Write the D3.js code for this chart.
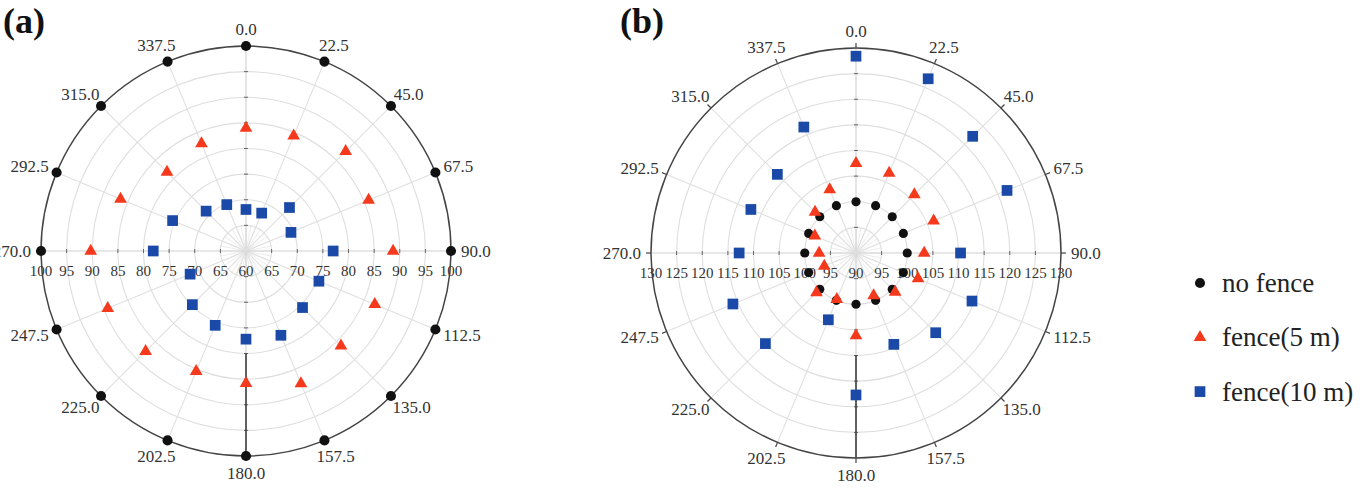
<!DOCTYPE html>
<html>
<head>
<meta charset="utf-8">
<script src="https://cdn.jsdelivr.net/npm/d3@7"></script>
<style>
    body { margin: 0; background: #fff; }
    svg { display: block; font-family: "Liberation Serif", "Times New Roman", serif; }
</style>
</head>
<body>
<svg id="chart" width="1366" height="491"></svg>
<script>
// 方位 (deg, 0 = top, clockwise)
const angles = [0, 22.5, 45, 67.5, 90, 112.5, 135, 157.5, 180, 202.5, 225, 247.5, 270, 292.5, 315, 337.5];
const angleLabels = ["0.0", "22.5", "45.0", "67.5", "90.0", "112.5", "135.0", "157.5",
    "180.0", "202.5", "225.0", "247.5", "270.0", "292.5", "315.0", "337.5"];

const seriesNames = ["no fence", "fence(5 m)", "fence(10 m)"];

// panel (a)
const aTicks = [60, 65, 70, 75, 80, 85, 90, 95, 100];
const aNoFence = [100, 100, 100, 100, 100, 100, 100, 100, 100, 100, 100, 100, 100, 100, 100, 100];
const aFence5 = [84.0, 84.3, 87.5, 85.9, 88.7, 87.2, 86.2, 88.0, 85.8, 85.4, 87.7, 89.2, 90.3, 86.5, 81.8, 82.7];
const aFence10 = [68.1, 68.0, 72.0, 69.5, 77.0, 75.4, 75.6, 77.8, 77.2, 75.7, 74.8, 71.8, 78.1, 75.5, 71.0, 69.8];

// panel (b)
const bTicks = [90, 95, 100, 105, 110, 115, 120, 125, 130];
const bNoFence = [100, 100, 100, 100, 100, 100, 100, 100, 100, 100, 100, 100, 100, 100, 100, 100];
const bFence5 = [107.5, 106.9, 106.1, 106.4, 103.3, 103.1, 100.8, 99.0, 106.1, 99.8, 100.9, 96.7, 97.2, 98.7, 101.3, 103.4];
const bFence10 = [128.4, 126.8, 122.2, 121.9, 110.4, 114.5, 112.0, 109.3, 117.7, 104.1, 115.0, 116.0, 112.8, 112.2, 111.7, 116.6];

const RED = "#f5391c";
const BLUE = "#1a49a8";
const BLACK = "#111";

const svg = d3.select("#chart");

/** マーカーの形 */
function markerPath(i, big) {
    const types = [d3.symbolCircle, d3.symbolTriangle, d3.symbolSquare];
    const sizes = big ? [80, 70, 115] : [66, 70, 115];
    return d3.symbol().type(types[i]).size(sizes[i])();
}
const colors = [BLACK, RED, BLUE];

/** 極座標パネルを描画
 *
 * @param {number} cx 中心x
 * @param {number} cy 中心y
 * @param {number} R 外周の半径
 * @param {number[]} ticks 半径方向の目盛り
 * @param {number[][]} series 各系列の値
 * @param {string} title パネル名
 * @param {number} titleX パネル名の位置
 * @param {boolean} bigDots
 */
function drawPanel(cx, cy, R, ticks, series, title, titleX, bigDots) {
    const g = svg.append("g");
    const r = d3.scaleLinear().domain([ticks[0], ticks[ticks.length - 1]]).range([0, R]);
    const a = d3.scaleLinear().domain([0, 360]).range([0, 2 * Math.PI]);
    const px = (deg, rad) => cx + rad * Math.sin(a(deg));
    const py = (deg, rad) => cy - rad * Math.cos(a(deg));

    // 細かい放射線 (内側のリングのみ)
    const r1 = r(ticks[1]);
    for (let d = 0; d < 360; d += 11.25) {
        g.append("line")
            .attr("x1", cx).attr("y1", cy)
            .attr("x2", px(d, r1)).attr("y2", py(d, r1))
            .attr("stroke", "#e6e6e6").attr("stroke-width", 0.8);
    }

    // 同心円
    g.selectAll(".ring").data(ticks.slice(1, -1)).enter().append("circle")
        .attr("cx", cx).attr("cy", cy)
        .attr("r", d => r(d))
        .attr("fill", "none")
        .attr("stroke", "#dedede").attr("stroke-width", 1.1);

    // 放射線
    g.selectAll(".spoke").data(angles).enter().append("line")
        .attr("x1", cx).attr("y1", cy)
        .attr("x2", d => px(d, R)).attr("y2", d => py(d, R))
        .attr("stroke", d => (d % 90 === 0 ? "#d0d0d0" : "#e0e0e0"))
        .attr("stroke-width", 1.1);

    // 軸上の小さな目盛り
    for (const t of ticks.slice(1, -1)) {
        const rr = r(t);
        for (const d of [0, 90, 180, 270]) {
            const x = px(d, rr), y = py(d, rr);
            const horiz = d === 90 || d === 270;
            g.append("line")
                .attr("x1", horiz ? x : x - 2).attr("x2", horiz ? x : x + 2)
                .attr("y1", horiz ? y - 2 : y).attr("y2", horiz ? y + 2 : y)
                .attr("stroke", "#666").attr("stroke-width", 1);
        }
    }

    // 180方向の太い軸線
    g.append("line")
        .attr("x1", px(180, R / 2)).attr("y1", py(180, R / 2))
        .attr("x2", px(180, R)).attr("y2", py(180, R))
        .attr("stroke", "#333").attr("stroke-width", 1.5);

    // 外周
    g.append("circle")
        .attr("cx", cx).attr("cy", cy).attr("r", R)
        .attr("fill", "none")
        .attr("stroke", "#444").attr("stroke-width", 1.5);

    // 外周の目盛り
    g.selectAll(".otick").data(angles).enter().append("line")
        .attr("x1", d => px(d, R)).attr("y1", d => py(d, R))
        .attr("x2", d => px(d, R + 5)).attr("y2", d => py(d, R + 5))
        .attr("stroke", "#444").attr("stroke-width", 1.2);

    // 角度ラベル
    angles.forEach((d, i) => {
        const t = g.append("text")
            .attr("font-size", 17)
            .attr("fill", "#333")
            .attr("text-anchor", "middle")
            .attr("dominant-baseline", "central")
            .text(angleLabels[i]);
        const w = t.node().getComputedTextLength();
        const sx = Math.sin(a(d)), sy = -Math.cos(a(d));
        t.attr("x", px(d, R + 10) + sx * w / 2)
            .attr("y", py(d, R + 10) + sy * 7);
    });

    // 半径方向のラベル
    ticks.forEach((t, i) => {
        const sides = i === 0 ? [90] : [270, 90];
        for (const d of sides) {
            g.append("text")
                .attr("x", px(d, r(t)))
                .attr("y", cy + 20)
                .attr("font-size", 15)
                .attr("fill", "#333")
                .attr("text-anchor", "middle")
                .attr("dominant-baseline", "central")
                .text(t);
        }
    });

    // データ点
    series.forEach((vals, s) => {
        g.selectAll(".pt" + s).data(vals).enter().append("path")
            .attr("d", markerPath(s, bigDots))
            .attr("transform", (v, k) => `translate(${px(angles[k], r(v))},${py(angles[k], r(v))})`)
            .attr("fill", colors[s]);
    });

    // パネル名
    svg.append("text")
        .attr("x", titleX).attr("y", 33)
        .attr("font-size", 36)
        .attr("font-weight", "bold")
        .attr("fill", "#111")
        .text(title);
}

drawPanel(246, 251, 205, aTicks, [aNoFence, aFence5, aFence10], "(a)", 3, true);
drawPanel(856, 253, 205, bTicks, [bNoFence, bFence5, bFence10], "(b)", 620, false);

// 凡例
const legend = svg.append("g").attr("transform", "translate(1200,283)");
seriesNames.forEach((name, i) => {
    const y = i * 54.3;
    legend.append("path")
        .attr("d", markerPath(i, true))
        .attr("transform", `translate(0,${y})`)
        .attr("fill", colors[i]);
    legend.append("text")
        .attr("x", 22).attr("y", y + 9)
        .attr("font-size", 27)
        .attr("fill", "#222")
        .text(name);
});
</script>
</body>
</html>
